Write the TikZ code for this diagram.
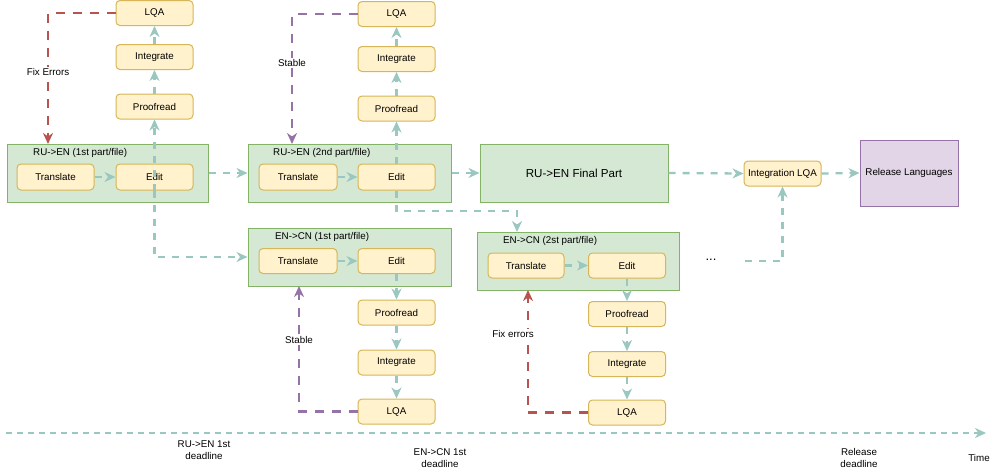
\documentclass[tikz,border=0pt]{standalone}
\usepackage{fontspec}
\setmainfont{Liberation Sans}
\usetikzlibrary{arrows.meta,calc}
\definecolor{gfill}{HTML}{D5E8D4}
\definecolor{gline}{HTML}{82B366}
\definecolor{yfill}{HTML}{FFF2CC}
\definecolor{yline}{HTML}{D6B656}
\definecolor{pfill}{HTML}{E1D5E7}
\definecolor{pline}{HTML}{9673A6}
\definecolor{tealx}{HTML}{9AC7BF}
\definecolor{redl}{HTML}{B85450}
\begin{document}
\begin{tikzpicture}[x=1pt,y=-1pt,
  every node/.style={font=\fontsize{9.8}{12}\selectfont, inner sep=0pt},
  ybox/.style={draw=yline, fill=yfill, rounded corners=4pt, minimum width=77pt, minimum height=25pt, line width=1pt},
  cont/.style={draw=gline, fill=gfill, minimum width=203pt, minimum height=58pt, line width=1pt},
  tip/.style={-{Stealth[length=11pt,width=10pt,inset=3.5pt]}},
  flow/.style={tip, draw=tealx, line width=2.3pt, dash pattern=on 7pt off 7pt},
  redflow/.style={tip, draw=redl, line width=2.3pt, dash pattern=on 9pt off 8pt},
  purpflow/.style={tip, draw=pline, line width=2.3pt, dash pattern=on 9pt off 8pt},
  lbl/.style={fill=white, inner sep=1pt},
  timeline/.style={tip, draw=tealx, line width=2.3pt, dash pattern=on 6pt off 5pt}
]
\useasboundingbox (0,0) rectangle (1000,474);

% containers
\node[cont, minimum width=201pt] (cont1) at (107.5,173) {};
\node[anchor=west] (c1l) at (33,153) {RU->EN (1st part/file)};
\node[cont] (cont2) at (349.5,173) {};
\node[anchor=west] (c2l) at (273,153) {RU->EN (2nd part/file)};
\node[cont] (cont3) at (349.5,257) {};
\node[anchor=west] (c3l) at (275,237) {EN->CN (1st part/file)};
\node[cont, minimum width=202pt] (cont4) at (578,261) {};
\node[anchor=west] (c4l) at (503,241) {EN->CN (2st part/file)};
\node[cont, minimum width=188pt, font=\fontsize{11.6}{13}\selectfont] (final) at (574,173) {RU->EN Final Part};

% group 1
\node[ybox, minimum height=26pt] (tr1) at (55.5,177) {Translate};
\node[ybox, minimum height=26pt] (ed1) at (154.5,177) {Edit};
\node[ybox] (pr1) at (154.5,106.5) {Proofread};
\node[ybox] (in1) at (154.5,57) {Integrate};
\node[ybox] (lqa1) at (154.5,13) {LQA};

% group 2
\node[ybox, minimum height=26pt, minimum width=78pt] (tr2) at (298,177) {Translate};
\node[ybox, minimum height=26pt] (ed2) at (396.5,177) {Edit};
\node[ybox] (pr2) at (396.5,108.5) {Proofread};
\node[ybox] (in2) at (396.5,59) {Integrate};
\node[ybox] (lqa2) at (396.5,14) {LQA};

% group 3
\node[ybox, minimum width=78pt] (tr3) at (298,261) {Translate};
\node[ybox] (ed3) at (396.5,261) {Edit};
\node[ybox] (pr3) at (396.5,312.5) {Proofread};
\node[ybox] (in3) at (396.5,362.5) {Integrate};
\node[ybox] (lqa3) at (396.5,411.5) {LQA};

% group 4
\node[ybox, minimum width=76pt] (tr4) at (526,265.5) {Translate};
\node[ybox] (ed4) at (627,265.5) {Edit};
\node[ybox] (pr4) at (627,314) {Proofread};
\node[ybox] (in4) at (627,364) {Integrate};
\node[ybox] (lqa4) at (627,412.5) {LQA};

% right side
\node[ybox] (intlqa) at (782.5,173.5) {Integration LQA};
\node[draw=pline, fill=pfill, line width=1pt, minimum width=98pt, minimum height=66pt] (rel) at (909,173) {Release Languages};

% coordinates
\coordinate (fx1) at (48,144);
\coordinate (st1) at (292,144);
\coordinate (st2) at (299,286);
\coordinate (fx2) at (528,290);
\coordinate (c4in) at (517,232);
\coordinate (dots) at (745,261);
\coordinate (t0) at (6,433);
\coordinate (t1) at (986,433);

% flows group 1
\draw[flow] (tr1) -- (ed1);
\draw[flow] (ed1.south) -- (pr1.south);
\draw[flow] (pr1) -- (in1);
\draw[flow] (in1) -- (lqa1);
\draw[flow] (ed1.south) |- (cont3.west);
\draw[redflow] (lqa1.west) -| (fx1);
\node[lbl] (fe1) at (48,72) {Fix Errors};

% flows group 2
\draw[flow] (cont1.east) -- (cont2.west);
\draw[flow] (tr2) -- (ed2);
\draw[flow] (ed2) -- (pr2);
\draw[flow] (pr2) -- (in2);
\draw[flow] (in2) -- (lqa2);
\draw[purpflow] (lqa2.west) -| (st1);
\node[lbl] (sb1) at (292,63) {Stable};
\draw[flow] (ed2.south) -- (ed2.south |- 0,211) -| (c4in);

% flows group 3
\draw[flow] (tr3) -- (ed3);
\draw[flow] (ed3) -- (pr3);
\draw[flow] (pr3) -- (in3);
\draw[flow] (in3) -- (lqa3);
\draw[purpflow] (lqa3.west) -| (st2);
\node[lbl] (sb2) at (299,340) {Stable};

% flows group 4
\draw[flow] (tr4) -- (ed4);
\draw[flow] (ed4) -- (pr4);
\draw[flow] (pr4) -- (in4);
\draw[flow] (in4) -- (lqa4);
\draw[redflow] (lqa4.west) -| (fx2);
\node[lbl] (fe2) at (513,334) {Fix errors};

% right flows
\draw[flow] (cont2.east) -- (final.west);
\draw[flow] (final.east) -- (intlqa.west);
\draw[flow] (intlqa.east) -- (rel.west);
\node[font=\fontsize{13}{14}\selectfont] (dd) at (711,260) {...};
\draw[flow] (dots) -| (intlqa.south);

% timeline
\draw[timeline] (t0) -- (t1);
\node[align=center] (tl1) at (204,450) {RU->EN 1st\\deadline};
\node[align=center] (tl2) at (440,458) {EN->CN 1st\\deadline};
\node[align=center] (tl3) at (859,458) {Release\\deadline};
\node (tl4) at (979,458) {Time};
\end{tikzpicture}
\end{document}
